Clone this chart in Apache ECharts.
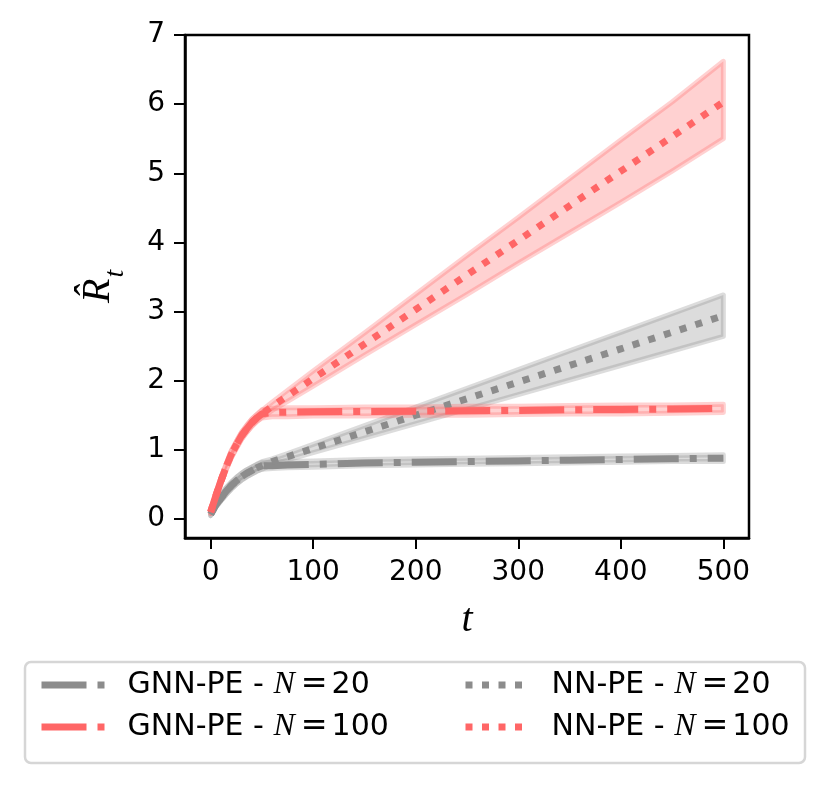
<!DOCTYPE html>
<html>
<head>
<meta charset="utf-8">
<script src="https://cdn.jsdelivr.net/npm/echarts@6/dist/echarts.min.js"></script>
<style>
  html, body { margin: 0; padding: 0; background: #fff; }
  #chart { width: 830px; height: 790px; }
</style>
</head>
<body>
<div id="chart"></div>
<script>
// time steps
var tVals = [0, 5, 10, 15, 20, 25, 30, 35, 40, 45, 50, 60, 75, 100, 150, 200, 250, 300, 350, 400, 450, 500];

// GNN-PE N=20
var gnn20 =   [0.07, 0.20, 0.30, 0.40, 0.48, 0.55, 0.61, 0.66, 0.70, 0.74, 0.77, 0.77, 0.78, 0.79, 0.81, 0.82, 0.83, 0.84, 0.85, 0.86, 0.87, 0.88];
var gnn20Lo = [0.05, 0.17, 0.26, 0.35, 0.43, 0.50, 0.56, 0.61, 0.65, 0.69, 0.72, 0.73, 0.74, 0.75, 0.77, 0.78, 0.79, 0.80, 0.81, 0.82, 0.83, 0.83];
var gnn20Hi = [0.09, 0.23, 0.34, 0.45, 0.53, 0.60, 0.66, 0.71, 0.75, 0.79, 0.82, 0.82, 0.83, 0.84, 0.86, 0.87, 0.88, 0.89, 0.90, 0.91, 0.92, 0.93];

// GNN-PE N=100
var gnn100 =   [0.10, 0.33, 0.55, 0.75, 0.93, 1.07, 1.20, 1.30, 1.39, 1.46, 1.52, 1.54, 1.545, 1.55, 1.555, 1.56, 1.565, 1.57, 1.58, 1.585, 1.59, 1.60];
var gnn100Lo = [0.08, 0.30, 0.51, 0.71, 0.88, 1.02, 1.15, 1.25, 1.34, 1.41, 1.46, 1.48, 1.48, 1.49, 1.49, 1.50, 1.50, 1.51, 1.52, 1.52, 1.53, 1.54];
var gnn100Hi = [0.12, 0.36, 0.59, 0.79, 0.98, 1.12, 1.25, 1.35, 1.44, 1.51, 1.58, 1.60, 1.61, 1.61, 1.62, 1.62, 1.63, 1.63, 1.64, 1.65, 1.65, 1.66];

// NN-PE N=20
var nn20 =   [0.07, 0.20, 0.30, 0.40, 0.48, 0.55, 0.61, 0.66, 0.70, 0.74, 0.77, 0.83, 0.90, 1.02, 1.26, 1.50, 1.74, 1.98, 2.22, 2.46, 2.70, 2.94];
var nn20Lo = [0.05, 0.17, 0.26, 0.35, 0.43, 0.50, 0.56, 0.61, 0.65, 0.69, 0.72, 0.79, 0.855, 0.96, 1.17, 1.38, 1.59, 1.80, 2.01, 2.22, 2.43, 2.64];
var nn20Hi = [0.09, 0.23, 0.34, 0.45, 0.53, 0.60, 0.66, 0.71, 0.75, 0.79, 0.83, 0.87, 0.945, 1.08, 1.35, 1.62, 1.89, 2.16, 2.43, 2.70, 2.97, 3.24];

// NN-PE N=100
var nn100 =   [0.10, 0.33, 0.55, 0.75, 0.93, 1.07, 1.20, 1.30, 1.39, 1.46, 1.52, 1.63, 1.78, 2.03, 2.53, 3.03, 3.53, 4.03, 4.53, 5.03, 5.53, 6.03];
var nn100Lo = [0.08, 0.30, 0.51, 0.71, 0.88, 1.02, 1.15, 1.25, 1.34, 1.41, 1.47, 1.57, 1.70, 1.92, 2.37, 2.81, 3.25, 3.70, 4.14, 4.58, 5.03, 5.50];
var nn100Hi = [0.12, 0.36, 0.59, 0.79, 0.98, 1.12, 1.25, 1.35, 1.44, 1.51, 1.57, 1.69, 1.86, 2.14, 2.69, 3.25, 3.81, 4.36, 4.92, 5.48, 6.03, 6.62];

var xTicks = [0, 100, 200, 300, 400, 500];
var yTicks = [0, 1, 2, 3, 4, 5, 6, 7];

var RED = '#ff6666';
var GREY = '#8c8c8c';

function pairs(ys) {
    return tVals.map(function (t, i) { return [t, ys[i]]; });
}

// shaded band between lo and hi, drawn as one polygon through the axis scales
function band(name, lo, hi, fill) {
    return {
        name: name,
        type: 'custom',
        clip: true,
        z: 1,
        silent: true,
        data: tVals.map(function (t, i) { return [t, lo[i], hi[i]]; }),
        encode: { x: 0, y: [1, 2] },
        renderItem: function (params, api) {
            if (params.dataIndex !== 0) return;
            var pts = [];
            for (var i = 0; i < tVals.length; i++) pts.push(api.coord([tVals[i], hi[i]]));
            for (var j = tVals.length - 1; j >= 0; j--) pts.push(api.coord([tVals[j], lo[j]]));
            return {
                type: 'polygon',
                shape: { points: pts },
                style: { fill: fill, stroke: fill, lineWidth: 5, lineJoin: 'round' }
            };
        }
    };
}

function line(name, ys, color, dash) {
    return {
        name: name,
        type: 'line',
        z: 3,
        data: pairs(ys),
        symbol: 'none',
        showSymbol: false,
        lineStyle: { color: color, width: 7, type: dash, cap: 'butt' },
        itemStyle: { color: color },
        emphasis: { disabled: true }
    };
}

var dashDot = [45, 11, 7, 11];
var dotted = [7, 9.5];

var legendText = {
    fontFamily: 'DejaVu Sans',
    fontSize: 30,
    color: '#000',
    rich: {
        sp: { width: 17, lineHeight: 36 },
        n: { fontFamily: 'DejaVu Sans', fontSize: 30, color: '#000', lineHeight: 36 },
        i: { fontFamily: 'Liberation Serif', fontStyle: 'italic', fontSize: 32, color: '#000', lineHeight: 36 },
        eq: { fontFamily: 'DejaVu Sans', fontSize: 32, color: '#000', lineHeight: 36, padding: [0, 4, 0, 6] }
    }
};
function legendFmt(name) {
    var parts = name.split(' - N=');
    return '{sp|}{n|' + parts[0] + ' - }{i|N}{eq|=}{n|' + parts[1] + '}';
}

var chart = echarts.init(document.getElementById('chart'));
chart.setOption({
    animation: false,
    backgroundColor: '#fff',
    grid: {
        left: 185, right: 81, top: 35, bottom: 252,
        show: true, borderColor: '#000', borderWidth: 2.5
    },
    xAxis: {
        type: 'value',
        min: -25, max: 525,
        name: 't',
        nameLocation: 'middle',
        nameGap: 62,
        nameTextStyle: { fontFamily: 'Liberation Serif', fontStyle: 'italic', fontSize: 40, color: '#000' },
        axisLine: { onZero: false, lineStyle: { color: '#000', width: 2.5 } },
        axisTick: { customValues: xTicks, length: 11, lineStyle: { color: '#000', width: 2 } },
        axisLabel: { customValues: xTicks, fontFamily: 'DejaVu Sans', fontSize: 28, color: '#000', margin: 21 },
        splitLine: { show: false }
    },
    yAxis: {
        type: 'value',
        min: -0.275, max: 7.0,
        axisLine: { onZero: false, lineStyle: { color: '#000', width: 2.5 } },
        axisTick: { customValues: yTicks, length: 11, lineStyle: { color: '#000', width: 2 } },
        axisLabel: { customValues: yTicks, fontFamily: 'DejaVu Sans', fontSize: 28, color: '#000', margin: 20 },
        splitLine: { show: false }
    },
    graphic: [{
        type: 'rect',
        z: -10,
        shape: { x: 25, y: 662, width: 780, height: 101, r: 6 },
        style: { fill: '#fff', stroke: '#d6d6d6', lineWidth: 2.5 }
    }, {
        // y-axis title, rotated to read bottom to top
        type: 'text',
        x: 98, y: 303,
        rotation: Math.PI / 2,
        style: {
            text: '{r|R\u0302}{s|t}',
            align: 'left',
            verticalAlign: 'middle',
            rich: {
                r: { fontFamily: 'Liberation Serif', fontStyle: 'italic', fontSize: 40, fill: '#000', lineHeight: 44 },
                s: { fontFamily: 'Liberation Serif', fontStyle: 'italic', fontSize: 28, fill: '#000', lineHeight: 44, verticalAlign: 'bottom', padding: [0, 0, -10, 1] }
            }
        }
    }],
    legend: [{
        orient: 'vertical',
        left: 33, top: 664,
        itemWidth: 64, itemHeight: 7, itemGap: 10,
        data: ['GNN-PE - N=20', 'GNN-PE - N=100'],
        formatter: legendFmt,
        textStyle: legendText,
        lineStyle: { width: 7 },
        itemStyle: { opacity: 0 },
        selectedMode: false
    }, {
        orient: 'vertical',
        left: 457, top: 664,
        itemWidth: 64, itemHeight: 7, itemGap: 10,
        data: ['NN-PE - N=20', 'NN-PE - N=100'],
        formatter: legendFmt,
        textStyle: legendText,
        lineStyle: { width: 7 },
        itemStyle: { opacity: 0 },
        selectedMode: false
    }],
    series: [
        band('band-gnn20', gnn20Lo, gnn20Hi, 'rgba(140,140,140,0.3)'),
        band('band-nn20', nn20Lo, nn20Hi, 'rgba(140,140,140,0.3)'),
        band('band-gnn100', gnn100Lo, gnn100Hi, 'rgba(255,102,102,0.3)'),
        band('band-nn100', nn100Lo, nn100Hi, 'rgba(255,102,102,0.3)'),
        line('GNN-PE - N=20', gnn20, GREY, dashDot),
        line('NN-PE - N=20', nn20, GREY, dotted),
        line('GNN-PE - N=100', gnn100, RED, dashDot),
        line('NN-PE - N=100', nn100, RED, dotted)
    ]
});
</script>
</body>
</html>
